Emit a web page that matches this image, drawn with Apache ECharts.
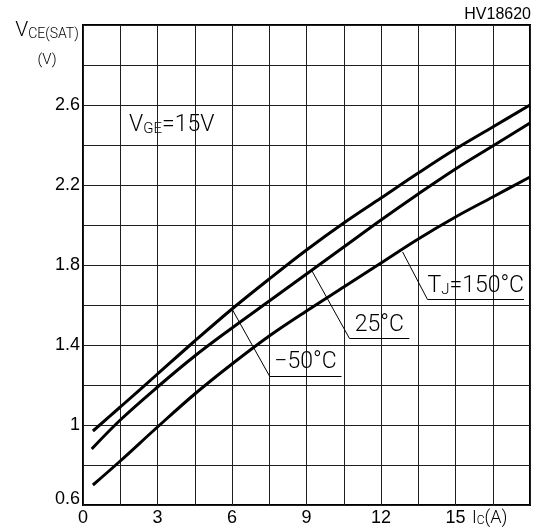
<!DOCTYPE html>
<html>
<head>
<meta charset="utf-8">
<script src="https://cdn.jsdelivr.net/npm/echarts@6/dist/echarts.min.js"></script>
<style>
  html, body { margin: 0; padding: 0; background: #fff; }
  #chart { width: 534px; height: 527px; }
</style>
</head>
<body>
<div id="chart"></div>
<script>
// Collector current Ic (A) and saturation voltage VCE(SAT) (V) per junction temperature
const currentMinus50 = [0.4, 1.5, 3, 4.5, 6, 7.5, 9, 10.5, 12, 13.5, 15, 16.5, 18];
const vceMinus50     = [0.97, 1.09, 1.255, 1.42, 1.58, 1.73, 1.875, 2.01, 2.135, 2.26, 2.38, 2.49, 2.60];

const current25 = [0.35, 1.5, 3, 4.5, 6, 7.5, 9, 10.5, 12, 13.5, 15, 16.5, 18];
const vce25     = [0.88, 1.025, 1.19, 1.345, 1.485, 1.62, 1.755, 1.89, 2.025, 2.155, 2.28, 2.395, 2.51];

const current150 = [0.4, 1.5, 3, 4.5, 6, 7.5, 9, 10.5, 12, 13.5, 15, 16.5, 18];
const vce150     = [0.70, 0.82, 0.99, 1.155, 1.305, 1.445, 1.57, 1.69, 1.81, 1.93, 2.04, 2.14, 2.24];

const xTickLabels = ['0', '3', '6', '9', '12', '15'];
const yTickLabels = ['0.6', '1', '1.4', '1.8', '2.2', '2.6'];

const seriesNames = ['-50°C', '25°C', '150°C'];

// Leader lines for the temperature labels, in data units (Ic, VCE)
const leaderMinus50 = [[6.0, 1.58], [7.51, 1.245], [10.41, 1.245]];
const leader25      = [[9.2, 1.775], [10.73, 1.433], [13.14, 1.433]];
const leader150     = [[12.87, 1.865], [13.87, 1.628], [17.76, 1.628]];

const THIN = 'Roboto, "DejaVu Sans", sans-serif';
const PLAIN = '"Liberation Sans", Arial, sans-serif';

function pairs(xs, ys) { return xs.map((x, i) => [x, ys[i]]); }
function fmt(v) { return String(Math.round(v * 10) / 10); }

const labelRich = {
  t: { fontFamily: THIN, fontWeight: 300, fontSize: 23, color: '#000', verticalAlign: 'bottom', lineHeight: 24 },
  s: { fontFamily: THIN, fontWeight: 300, fontSize: 15, color: '#000', verticalAlign: 'bottom', lineHeight: 24 }
};

function leader(path, text) {
  return {
    silent: true,
    symbol: ['none', 'none'],
    lineStyle: { color: '#000', width: 1, type: 'solid' },
    label: { show: false },
    data: [
      [{ coord: path[0] }, { coord: path[1] }],
      [{ coord: path[1] }, { coord: path[2],
        label: { show: true, position: 'insideMiddleTop', distance: 2, formatter: text, rich: labelRich } }]
    ]
  };
}

function curve(name, xs, ys, path, text) {
  return {
    name: name,
    type: 'line',
    data: pairs(xs, ys),
    smooth: 0.35,
    showSymbol: false,
    symbol: 'none',
    clip: true,
    lineStyle: { color: '#000', width: 3 },
    markLine: leader(path, text)
  };
}

const chart = echarts.init(document.getElementById('chart'), null, { renderer: 'canvas' });

chart.setOption({
  animation: false,
  backgroundColor: '#fff',
  grid: {
    left: 83, top: 25, width: 447, height: 480,
    show: true, borderColor: '#000', borderWidth: 2, backgroundColor: 'transparent'
  },
  xAxis: {
    type: 'value', min: 0, max: 18, interval: 1.5,
    axisLine: { show: false },
    axisTick: { show: false },
    splitLine: { show: true, lineStyle: { color: '#1e1e1e', width: 1 } },
    axisLabel: {
      margin: 4, fontSize: 18, fontFamily: PLAIN, color: '#000',
      formatter: v => xTickLabels.includes(fmt(v)) ? fmt(v) : ''
    }
  },
  yAxis: {
    type: 'value', min: 0.6, max: 3.0, interval: 0.2,
    axisLine: { show: false },
    axisTick: { show: false },
    splitLine: { show: true, lineStyle: { color: '#1e1e1e', width: 1 } },
    axisLabel: {
      margin: 3, fontSize: 18, fontFamily: PLAIN, color: '#000',
      formatter: v => {
        const s = fmt(v);
        if (!yTickLabels.includes(s)) return '';
        return s === '0.6' ? '{lo|0.6}' : s;
      },
      rich: { lo: { fontSize: 18, fontFamily: PLAIN, color: '#000', padding: [0, 0, 12, 0] } }
    }
  },
  series: [
    curve(seriesNames[0], currentMinus50, vceMinus50, leaderMinus50, '{t|−50°C}'),
    curve(seriesNames[1], current25, vce25, leader25, '{t|25°C}'),
    curve(seriesNames[2], current150, vce150, leader150, '{t|T}{s|J}{t|=150°C}')
  ],
  graphic: [
    {
      type: 'text', right: 3, top: 7, silent: true,
      style: { text: 'HV18620', font: '16px "Liberation Sans", Arial, sans-serif', fill: '#000' }
    },
    {
      type: 'text', x: 47, y: 41, silent: true,
      style: {
        text: '{v|V}{s|CE(SAT)}', textAlign: 'center', textVerticalAlign: 'bottom',
        rich: {
          v: { fontFamily: THIN, fontWeight: 300, fontSize: 21, fill: '#000', verticalAlign: 'bottom', lineHeight: 22 },
          s: { fontFamily: THIN, fontWeight: 300, fontSize: 14, fill: '#000', verticalAlign: 'bottom', lineHeight: 22 }
        }
      }
    },
    {
      type: 'text', x: 47, y: 60, silent: true,
      style: { text: '(V)', textAlign: 'center', textVerticalAlign: 'middle',
        font: '300 15px Roboto, "DejaVu Sans", sans-serif', fill: '#000' }
    },
    {
      type: 'text', x: 129, y: 137, silent: true,
      style: {
        text: '{v|V}{s|GE}{v|=15V}', textAlign: 'left', textVerticalAlign: 'bottom',
        rich: {
          v: { fontFamily: THIN, fontWeight: 300, fontSize: 23, fill: '#000', verticalAlign: 'bottom', lineHeight: 24 },
          s: { fontFamily: THIN, fontWeight: 300, fontSize: 15, fill: '#000', verticalAlign: 'bottom', lineHeight: 24 }
        }
      }
    },
    {
      type: 'text', x: 472, y: 527, silent: true,
      style: {
        text: '{v|I}{s|C}{v|(A)}', textAlign: 'left', textVerticalAlign: 'bottom',
        rich: {
          v: { fontFamily: THIN, fontWeight: 300, fontSize: 18, fill: '#000', verticalAlign: 'bottom', lineHeight: 20 },
          s: { fontFamily: THIN, fontWeight: 300, fontSize: 12, fill: '#000', verticalAlign: 'bottom', lineHeight: 20 }
        }
      }
    }
  ]
});
</script>
</body>
</html>
